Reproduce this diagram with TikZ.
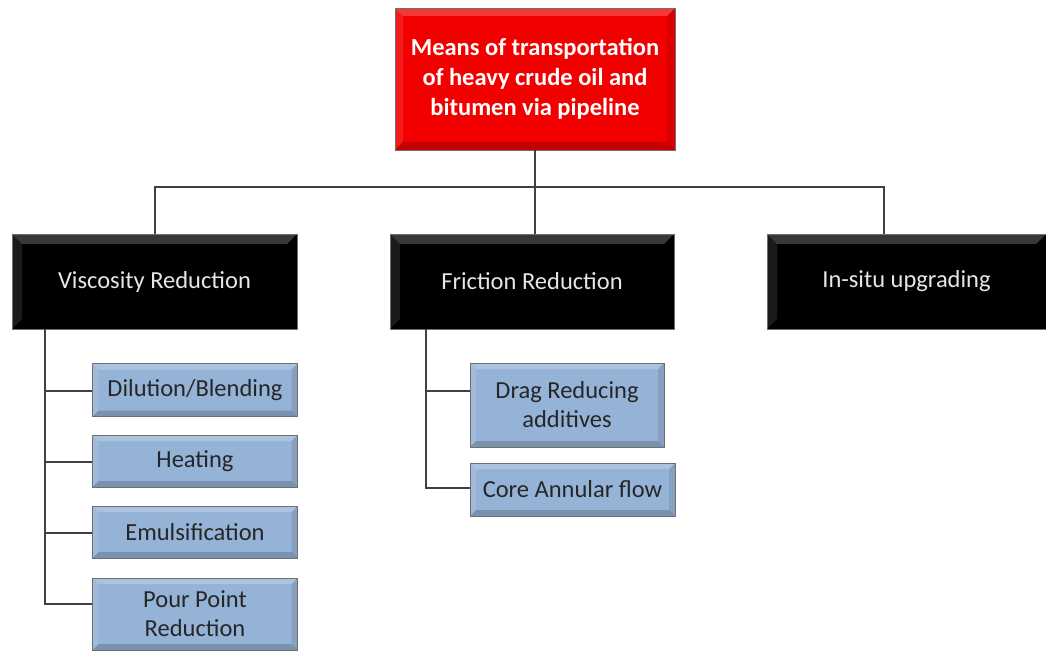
\documentclass[tikz,border=0pt]{standalone}
\usepackage{fontspec}
\setmainfont{Carlito}
\definecolor{rootred}{HTML}{F20000}
\definecolor{leafblue}{HTML}{95B3D7}
\definecolor{bordergray}{HTML}{6F6F6F}
\definecolor{lighttext}{HTML}{E6E6E6}
\begin{document}
\begin{tikzpicture}[x=1pt,y=-1pt,
  bev/.style={path picture={
    \fill[white,opacity=0.22] (path picture bounding box.north west) -- (path picture bounding box.north east)
      -- ([xshift=-#1,yshift=-#1]path picture bounding box.north east) -- ([xshift=#1,yshift=-#1]path picture bounding box.north west) -- cycle;
    \fill[white,opacity=0.10] (path picture bounding box.north west) -- (path picture bounding box.south west)
      -- ([xshift=#1,yshift=#1]path picture bounding box.south west) -- ([xshift=#1,yshift=-#1]path picture bounding box.north west) -- cycle;
    \fill[black,opacity=0.18] (path picture bounding box.south west) -- (path picture bounding box.south east)
      -- ([xshift=-#1,yshift=#1]path picture bounding box.south east) -- ([xshift=#1,yshift=#1]path picture bounding box.south west) -- cycle;
    \fill[black,opacity=0.10] (path picture bounding box.north east) -- (path picture bounding box.south east)
      -- ([xshift=-#1,yshift=#1]path picture bounding box.south east) -- ([xshift=-#1,yshift=-#1]path picture bounding box.north east) -- cycle;
  }},
  rootbox/.style={draw=bordergray, line width=0.8pt, fill=rootred, bev=8pt, text=white, align=center,
    font=\fontsize{24.5}{30}\selectfont\bfseries, inner sep=0pt, minimum width=280pt, minimum height=142pt},
  catbox/.style={draw=bordergray, line width=0.8pt, fill=black, bev=10pt, text=lighttext, align=center,
    font=\fontsize{24.5}{29}\selectfont, inner sep=0pt, minimum height=95pt},
  leafbox/.style={draw=bordergray, line width=0.8pt, fill=leafblue, bev=6pt, text=black!85, align=center,
    font=\fontsize{24.5}{29}\selectfont, inner sep=0pt},
  link/.style={draw=black!75, line width=1.2pt}
]
\useasboundingbox (0,0) rectangle (1046,652);

\node[rootbox] (root) at (535,79) {Means of transportation\\of heavy crude oil and\\bitumen via pipeline};

\node[catbox, minimum width=285pt] (visc) at (154.5,281.5) {Viscosity Reduction};
\node[catbox, minimum width=284pt] (fric) at (532,281.5) {Friction Reduction};
\node[catbox, minimum width=279pt] (insitu) at (906.5,281.5) {In-situ upgrading};

\node[leafbox, minimum width=205pt, minimum height=53pt] (dil) at (195,390) {Dilution/Blending};
\node[leafbox, minimum width=205pt, minimum height=52pt] (heat) at (195,461) {Heating};
\node[leafbox, minimum width=205pt, minimum height=52pt] (emul) at (195,532) {Emulsification};
\node[leafbox, minimum width=205pt, minimum height=72pt] (pour) at (195,614) {Pour Point\\Reduction};

\node[leafbox, minimum width=194pt, minimum height=84pt] (drag) at (567,405) {Drag Reducing\\additives};
\node[leafbox, minimum width=205pt, minimum height=53pt] (core) at (572.5,489.5) {Core Annular flow};

\coordinate (bus) at (535,187);
\coordinate (busL) at (155,187);
\coordinate (busR) at (884,187);
\draw[link] (root.south) -- (root.south |- fric.north);
\draw[link] (visc.north -| busL) -- (busL) -- (busR) -- (insitu.north -| busR);

\draw[link] (45,329) |- (pour.west |- 0,604);
\draw[link] (45,391) -- (dil.west |- 0,391);
\draw[link] (45,462) -- (heat.west |- 0,462);
\draw[link] (45,533) -- (emul.west |- 0,533);

\draw[link] (426,329) |- (core.west |- 0,488);
\draw[link] (426,391) -- (drag.west |- 0,391);
\end{tikzpicture}
\end{document}
